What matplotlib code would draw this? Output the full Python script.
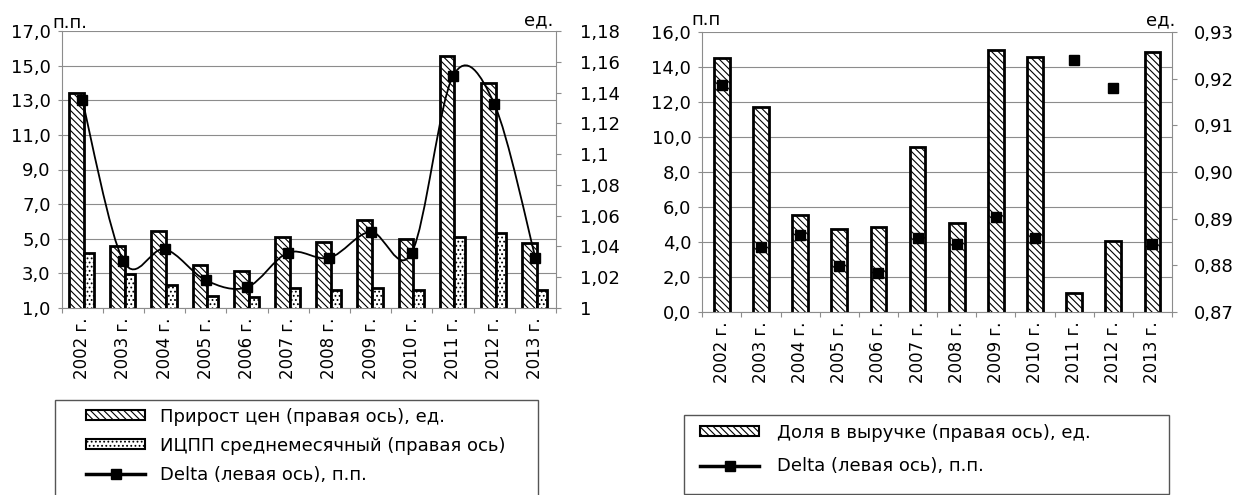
import matplotlib
matplotlib.use('Agg')
import matplotlib.pyplot as plt
from matplotlib.patches import Patch, PathPatch, Rectangle
from matplotlib.lines import Line2D
from matplotlib.path import Path
import numpy as np

plt.rcParams['font.family'] = ['DejaVu Sans']
plt.rcParams['font.size'] = 13
plt.rcParams['hatch.linewidth'] = 0.8

# data
years = ['2002 г.', '2003 г.', '2004 г.', '2005 г.', '2006 г.', '2007 г.',
         '2008 г.', '2009 г.', '2010 г.', '2011 г.', '2012 г.', '2013 г.']
price_growth = [1.140, 1.040, 1.050, 1.028, 1.024, 1.046, 1.043, 1.057, 1.045, 1.164, 1.146, 1.042]
ppi_monthly = [1.036, 1.022, 1.015, 1.008, 1.007, 1.013, 1.012, 1.013, 1.012, 1.046, 1.049, 1.012]
delta = [13.0, 3.7, 4.4, 2.6, 2.2, 4.2, 3.9, 5.4, 4.2, 14.4, 12.8, 3.9]
revenue_share = [0.9244, 0.9140, 0.8908, 0.8878, 0.8882, 0.9054, 0.8891, 0.9261, 0.9248, 0.8740, 0.8852, 0.9257]

left1_ticks = [1, 3, 5, 7, 9, 11, 13, 15, 17]
right1_ticks = [1.00, 1.02, 1.04, 1.06, 1.08, 1.10, 1.12, 1.14, 1.16, 1.18]
left2_ticks = [0, 2, 4, 6, 8, 10, 12, 14, 16]
right2_ticks = [0.87, 0.88, 0.89, 0.90, 0.91, 0.92, 0.93]

lab_price = 'Прирост цен (правая ось), ед.'
lab_ppi = 'ИЦПП среднемесячный (правая ось)'
lab_delta = 'Delta (левая ось), п.п.'
lab_share = 'Доля в выручке (правая ось), ед.'

W, H = 1251, 495
GRAY = '#8c8c8c'
HATCH = '\\' * 5
DOTS = '....'

fig = plt.figure(figsize=(W / 100, H / 100), dpi=100)


def px_axes(x0, y0, x1, y1):
    return fig.add_axes([x0 / W, 1 - y1 / H, (x1 - x0) / W, (y1 - y0) / H])


def setup(ax, ax_r, lticks, llabels, rticks, rlabels, rpad):
    n = len(years)
    ax.set_xlim(-0.5, n - 0.5)
    ax.set_xticks(np.arange(n + 1) - 0.5)
    ax.set_xticklabels([])
    ax.set_xticks(np.arange(n), minor=True)
    ax.set_xticklabels(years, minor=True, rotation=90, fontsize=12)
    ax.tick_params(axis='x', which='major', length=3.6, color=GRAY)
    ax.tick_params(axis='x', which='minor', length=0, pad=7)
    ax.set_ylim(lticks[0], lticks[-1])
    ax.set_yticks(lticks)
    ax.set_yticklabels(llabels)
    ax.tick_params(axis='y', length=3, color=GRAY, pad=5)
    ax.yaxis.grid(True, color=GRAY, lw=0.8)
    ax.set_axisbelow(True)
    for s in ['top', 'right']:
        ax.spines[s].set_visible(False)
    for s in ['left', 'bottom']:
        ax.spines[s].set_color(GRAY)
    ax_r.set_ylim(rticks[0], rticks[-1])
    ax_r.set_yticks(rticks)
    ax_r.set_yticklabels(rlabels)
    ax_r.tick_params(axis='y', length=3.6, color=GRAY, pad=rpad)
    for s in ['top', 'left', 'bottom']:
        ax_r.spines[s].set_visible(False)
    ax_r.spines['right'].set_color(GRAY)


def smooth_path(xs, ys):
    # Catmull-Rom curve through the points, as cubic Bezier segments
    pts = np.column_stack([xs, ys]).astype(float)
    verts = [pts[0]]
    codes = [Path.MOVETO]
    for i in range(len(pts) - 1):
        p0 = pts[max(i - 1, 0)]
        p1 = pts[i]
        p2 = pts[i + 1]
        p3 = pts[min(i + 2, len(pts) - 1)]
        verts += [p1 + (p2 - p0) / 6, p2 - (p3 - p1) / 6, p2]
        codes += [Path.CURVE4] * 3
    return Path(verts, codes)


x = np.arange(len(years))

# ---- left chart
ax1 = px_axes(61.7, 31, 556, 308)
ax1r = ax1.twinx()
ax1t = ax1.twinx()
setup(ax1, ax1r, left1_ticks, [f'{v:.1f}'.replace('.', ',') for v in left1_ticks],
      right1_ticks, [f'{v:g}'.replace('.', ',') for v in right1_ticks], 14)
ax1r.bar(x - 0.1425, price_growth, width=0.355, facecolor='white',
         edgecolor='black', hatch=HATCH, lw=2)
ax1r.bar(x + 0.1625, ppi_monthly, width=0.255, facecolor='white',
         edgecolor='black', hatch=DOTS, lw=2)
ax1r.set_ylim(right1_ticks[0], right1_ticks[-1])
ax1t.set_ylim(ax1.get_ylim())
ax1t.axis('off')
ax1t.add_patch(PathPatch(smooth_path(x, delta), fill=False, edgecolor='black', lw=1.3))
ax1t.plot(x, delta, ls='none', marker='s', ms=7, color='black')

# ---- right chart
ax2 = px_axes(702.3, 32.3, 1172, 311.7)
ax2r = ax2.twinx()
ax2t = ax2.twinx()
setup(ax2, ax2r, left2_ticks, [f'{v:.1f}'.replace('.', ',') for v in left2_ticks],
      right2_ticks, [f'{v:.2f}'.replace('.', ',') for v in right2_ticks], 12.5)
ax2r.bar(x, revenue_share, width=0.4, facecolor='white', edgecolor='black',
         hatch=HATCH, lw=2)
ax2r.set_ylim(right2_ticks[0], right2_ticks[-1])
ax2t.set_ylim(ax2.get_ylim())
ax2t.axis('off')
ax2t.plot(x, delta, ls='none', marker='s', ms=7, color='black')

# unit labels
fig.text(52 / W, 1 - 28 / H, 'п.п.', ha='left', va='baseline')
fig.text(524 / W, 1 - 25 / H, 'ед.', ha='left', va='baseline')
fig.text(691 / W, 1 - 25 / H, 'п.п', ha='left', va='baseline')
fig.text(1146 / W, 1 - 25 / H, 'ед.', ha='left', va='baseline')

# legends with plain square frames
fig.add_artist(Rectangle((55 / W, 1 - 505 / H), (538 - 55) / W, 105 / H,
                         transform=fig.transFigure, fill=False, edgecolor='#555555', lw=1))
fig.add_artist(Rectangle((684 / W, 1 - 494 / H), (1169 - 684) / W, 79 / H,
                         transform=fig.transFigure, fill=False, edgecolor='#555555', lw=1))

h_price = Patch(facecolor='white', edgecolor='black', hatch=HATCH, lw=1.5)
h_ppi = Patch(facecolor='white', edgecolor='black', hatch=DOTS, lw=1.5)
h_delta = Line2D([], [], color='black', lw=2.5, marker='s', ms=7)

fig.legend([h_price, h_ppi, h_delta], [lab_price, lab_ppi, lab_delta], loc='upper left',
           bbox_to_anchor=(86 / W, 1 - 407.5 / H), frameon=False, borderpad=0,
           borderaxespad=0, handlelength=3.27, handleheight=0.45, handletextpad=0.85,
           labelspacing=0.62)
fig.legend([h_price, h_delta], [lab_share, lab_delta], loc='upper left',
           bbox_to_anchor=(700 / W, 1 - 423.5 / H), frameon=False, borderpad=0,
           borderaxespad=0, handlelength=3.27, handleheight=0.45, handletextpad=1.0,
           labelspacing=0.87)

fig.savefig('out.png', dpi=100)
